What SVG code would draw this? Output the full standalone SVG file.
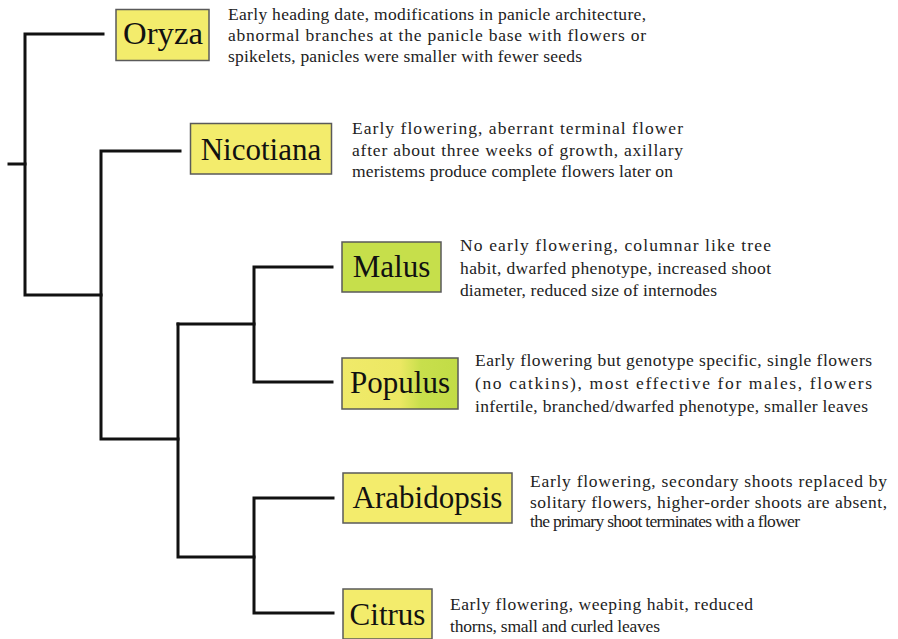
<svg xmlns="http://www.w3.org/2000/svg" width="898" height="639" viewBox="0 0 898 639">
<style>
.br{fill:none;stroke:#111;stroke-width:3;stroke-linecap:square}
.box{stroke:#5a5a5a;stroke-width:1.5}
.yel{fill:#f3ec6c}
.lab{font-size:31px;fill:#111;text-anchor:middle}
.d{font-size:17.5px;fill:#222}
</style>
<defs>
<linearGradient id="pop" x1="0" y1="0" x2="1" y2="0">
<stop offset="0" stop-color="#f0ea6a"/>
<stop offset="0.5" stop-color="#ece863"/>
<stop offset="0.68" stop-color="#c8df4c"/>
<stop offset="1" stop-color="#c2dc46"/>
</linearGradient>
</defs>
<rect width="898" height="639" fill="#fff"/>
<g id="connectors">
<path class="br" d="M9,164H25"/>
<path class="br" d="M103,34H25V295H101"/>
<path class="br" d="M180,151H101V439H178"/>
<path class="br" d="M178,324H254"/>
<path class="br" d="M332,267H254V382H332"/>
<path class="br" d="M178,324V557H254"/>
<path class="br" d="M333,498H254V613H333"/>
</g>
<g font-family="'Liberation Serif', 'DejaVu Serif', serif">
<g id="oryza">
<rect class="box yel" x="116" y="9.5" width="93" height="51"/>
<text class="lab" x="163" y="44" textLength="80" lengthAdjust="spacingAndGlyphs">Oryza</text>
<text class="d" x="228" y="20" textLength="418" lengthAdjust="spacing">Early heading date, modifications in panicle architecture,</text>
<text class="d" x="228" y="41" textLength="418" lengthAdjust="spacing">abnormal branches at the panicle base with flowers or</text>
<text class="d" x="228" y="62" textLength="354" lengthAdjust="spacing">spikelets, panicles were smaller with fewer seeds</text>
</g>
<g id="nicotiana">
<rect class="box yel" x="190.5" y="123.5" width="141" height="50.5"/>
<text class="lab" x="261" y="160">Nicotiana</text>
<text class="d" x="352" y="134" textLength="331" lengthAdjust="spacing">Early flowering, aberrant terminal flower</text>
<text class="d" x="352" y="156" textLength="331" lengthAdjust="spacing">after about three weeks of growth, axillary</text>
<text class="d" x="352" y="177" textLength="321" lengthAdjust="spacing">meristems produce complete flowers later on</text>
</g>
<g id="malus">
<rect class="box" fill="#c6df4b" x="342" y="242" width="99" height="50"/>
<text class="lab" x="391.5" y="277">Malus</text>
<text class="d" x="460" y="251" textLength="311" lengthAdjust="spacing">No early flowering, columnar like tree</text>
<text class="d" x="460" y="274" textLength="311" lengthAdjust="spacing">habit, dwarfed phenotype, increased shoot</text>
<text class="d" x="460" y="296" textLength="257" lengthAdjust="spacing">diameter, reduced size of internodes</text>
</g>
<g id="populus">
<rect class="box" fill="url(#pop)" x="342" y="358" width="116" height="51"/>
<text class="lab" x="400" y="393">Populus</text>
<text class="d" x="475" y="366" textLength="397" lengthAdjust="spacing">Early flowering but genotype specific, single flowers</text>
<text class="d" x="475" y="389" textLength="397" lengthAdjust="spacing">(no catkins), most effective for males, flowers</text>
<text class="d" x="475" y="412" textLength="393" lengthAdjust="spacing">infertile, branched/dwarfed phenotype, smaller leaves</text>
</g>
<g id="arabidopsis">
<rect class="box yel" x="343" y="473" width="169" height="50"/>
<text class="lab" x="427.5" y="508">Arabidopsis</text>
<text class="d" x="530" y="487" textLength="357" lengthAdjust="spacing">Early flowering, secondary shoots replaced by</text>
<text class="d" x="530" y="508" textLength="357" lengthAdjust="spacing">solitary flowers, higher-order shoots are absent,</text>
<text class="d" x="530" y="527" textLength="270" lengthAdjust="spacing">the primary shoot terminates with a flower</text>
</g>
<g id="citrus">
<rect class="box yel" x="343" y="589" width="89" height="50"/>
<text class="lab" x="387.5" y="625">Citrus</text>
<text class="d" x="450" y="610" textLength="303" lengthAdjust="spacing">Early flowering, weeping habit, reduced</text>
<text class="d" x="450" y="632" textLength="210" lengthAdjust="spacing">thorns, small and curled leaves</text>
</g>
</g>
</svg>
